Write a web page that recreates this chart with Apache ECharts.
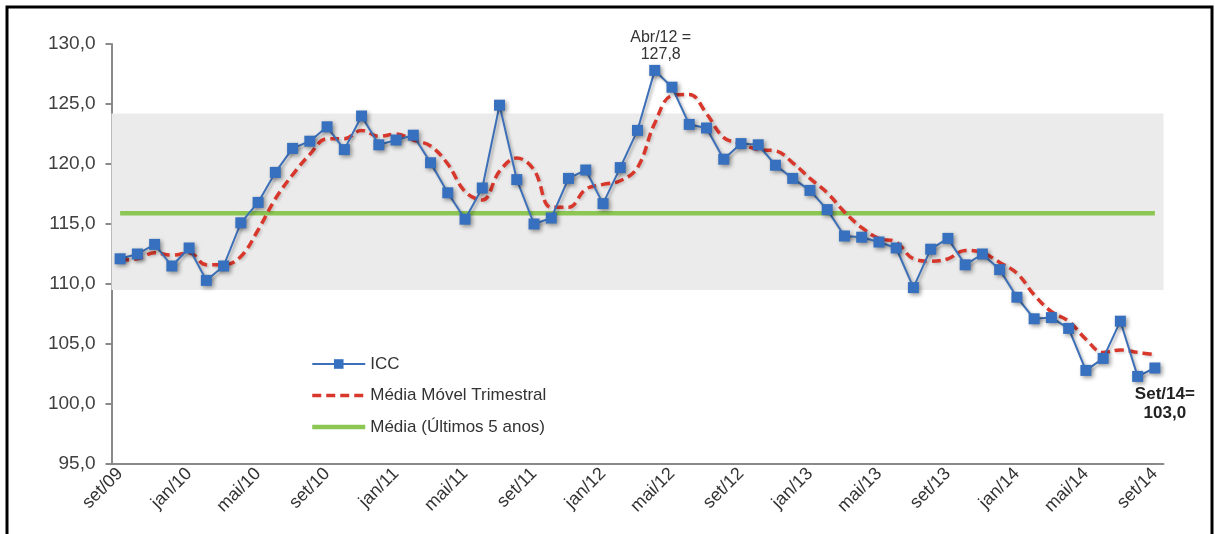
<!DOCTYPE html>
<html>
<head>
<meta charset="utf-8">
<script src="https://cdn.jsdelivr.net/npm/echarts@6/dist/echarts.min.js"></script>
<style>
  html, body { margin: 0; padding: 0; background: #fff; }
  #chart { width: 1215px; height: 534px; }
</style>
</head>
<body>
<div id="chart"></div>
<script>
// Meses (set/09 a set/14)
const meses = [
  'set/09','out/09','nov/09','dez/09',
  'jan/10','fev/10','mar/10','abr/10','mai/10','jun/10','jul/10','ago/10','set/10','out/10','nov/10','dez/10',
  'jan/11','fev/11','mar/11','abr/11','mai/11','jun/11','jul/11','ago/11','set/11','out/11','nov/11','dez/11',
  'jan/12','fev/12','mar/12','abr/12','mai/12','jun/12','jul/12','ago/12','set/12','out/12','nov/12','dez/12',
  'jan/13','fev/13','mar/13','abr/13','mai/13','jun/13','jul/13','ago/13','set/13','out/13','nov/13','dez/13',
  'jan/14','fev/14','mar/14','abr/14','mai/14','jun/14','jul/14','ago/14','set/14'
];

// Índice de Confiança do Consumidor
const icc = [
  112.1, 112.5, 113.3, 111.5,
  113.0, 110.3, 111.5, 115.1, 116.8, 119.3, 121.3, 121.9, 123.1, 121.2, 124.0, 121.6,
  122.0, 122.4, 120.1, 117.6, 115.4, 118.0, 124.9, 118.7, 115.0, 115.5, 118.8, 119.5,
  116.7, 119.7, 122.8, 127.8, 126.4, 123.3, 123.0, 120.4, 121.7, 121.6, 119.9, 118.8,
  117.8, 116.2, 114.0, 113.9, 113.5, 113.0, 109.7, 112.9, 113.8, 111.6, 112.5, 111.2,
  108.9, 107.1, 107.2, 106.3, 102.8, 103.8, 106.9, 102.3, 103.0
];

// Média móvel trimestral
const mediaMovel = [
  112.0, 112.1, 112.6, 112.4,
  112.6, 111.6, 111.6, 112.3, 114.5, 117.1, 119.1, 120.8, 122.1, 122.1, 122.8, 122.3,
  122.5, 122.0, 121.5, 120.0, 117.7, 117.0, 119.4, 120.5, 119.5, 116.4, 116.4, 117.9,
  118.3, 118.6, 119.7, 123.4, 125.7, 125.8, 124.2, 122.2, 121.7, 121.2, 121.1, 120.1,
  118.8, 117.6, 116.0, 114.7, 113.8, 113.5, 112.1, 111.9, 112.1, 112.8, 112.6, 111.8,
  110.9, 109.1, 107.7, 106.9, 105.4, 104.3, 104.5, 104.3, 104.1
];

// Média dos últimos 5 anos e faixa de referência
const media5Anos = 115.9;
const faixa = [109.5, 124.2];

// Eixo vertical
const yMin = 95, yMax = 130, yStep = 5;

// Pontos destacados: [índice, rótulo]
const destaquePico = [31, 'Abr/12 =\n127,8'];
const destaqueFim = [60, 'Set/14=\n103,0'];

const fmt = v => v.toFixed(1).replace('.', ',');
const FONT = '"Liberation Sans", Arial, sans-serif';

const COR_ICC = '#3d70b8';
const COR_MM = '#d8372c';
const COR_MEDIA = '#8cc653';

const iccData = icc.map((v, i) => {
  if (i === destaquePico[0]) {
    return {
      value: v,
      label: {
        show: true, position: 'top', distance: 3, offset: [6, 1],
        formatter: destaquePico[1], color: '#333', fontSize: 16, lineHeight: 17,
        fontFamily: FONT, align: 'center'
      }
    };
  }
  if (i === destaqueFim[0]) {
    return {
      value: v,
      label: {
        show: true, position: 'bottom', distance: 11, offset: [10, 0],
        formatter: destaqueFim[1], color: '#222', fontSize: 17, lineHeight: 19,
        fontWeight: 'bold', fontFamily: FONT, align: 'center'
      }
    };
  }
  return v;
});

const chart = echarts.init(document.getElementById('chart'), null, { renderer: 'canvas' });

chart.setOption({
  animation: false,
  backgroundColor: '#fff',
  textStyle: { fontFamily: FONT },
  graphic: [{
    type: 'rect',
    shape: { x: 7, y: 7, width: 1205, height: 560 },
    style: { fill: 'none', stroke: '#000', lineWidth: 3 },
    z: 100
  }],
  grid: { left: 111.5, right: 51.5, top: 44, bottom: 70 },
  legend: {
    orient: 'vertical',
    left: 310, top: 355.5,
    padding: 0,
    itemWidth: 53, itemHeight: 12, itemGap: 14.5, itemTextGap: 7,
    textStyle: { fontSize: 17, color: '#333', fontFamily: FONT },
    data: [
      { name: 'ICC', lineStyle: { width: 2 } },
      { name: 'Média Móvel Trimestral', itemStyle: { opacity: 0 }, lineStyle: { width: 3.5 } },
      { name: 'Média (Últimos 5 anos)', itemStyle: { opacity: 0 }, lineStyle: { width: 4.5 } }
    ]
  },
  xAxis: {
    type: 'category',
    data: meses,
    boundaryGap: true,
    axisLine: { lineStyle: { color: '#8a8a8a', width: 2 } },
    axisTick: { interval: 3, length: 4, lineStyle: { color: '#8a8a8a', width: 2 } },
    axisLabel: {
      interval: 3, rotate: 45, margin: 7,
      fontSize: 18, color: '#333', fontFamily: FONT
    },
    splitLine: { show: false }
  },
  yAxis: {
    type: 'value',
    min: yMin, max: yMax, interval: yStep,
    axisLine: { show: true, lineStyle: { color: '#8a8a8a', width: 2 } },
    axisTick: { show: true, length: 6, lineStyle: { color: '#8a8a8a', width: 2 } },
    axisLabel: {
      formatter: fmt, margin: 16,
      fontSize: 19, color: '#404040', fontFamily: FONT
    },
    splitLine: { show: false }
  },
  series: [
    {
      name: 'Média (Últimos 5 anos)',
      type: 'line',
      data: [[meses[0], media5Anos], [meses[meses.length - 1], media5Anos]],
      symbol: 'none',
      lineStyle: { color: COR_MEDIA, width: 4.5 },
      itemStyle: { color: COR_MEDIA },
      z: 2,
      markArea: {
        silent: true,
        itemStyle: { color: '#ebebeb' },
        data: [[{ yAxis: faixa[0] }, { yAxis: faixa[1] }]]
      }
    },
    {
      name: 'Média Móvel Trimestral',
      type: 'line',
      data: mediaMovel,
      smooth: 0.4,
      symbol: 'none',
      lineStyle: {
        color: COR_MM, width: 3.5, type: [9, 5],
        shadowColor: 'rgba(0,0,0,0.18)', shadowBlur: 3, shadowOffsetX: 1.5, shadowOffsetY: 1.5
      },
      itemStyle: { color: COR_MM },
      z: 3
    },
    {
      name: 'ICC',
      type: 'line',
      data: iccData,
      symbol: 'rect',
      symbolSize: 11,
      lineStyle: {
        color: COR_ICC, width: 2,
        shadowColor: 'rgba(0,0,0,0.3)', shadowBlur: 3, shadowOffsetX: 2, shadowOffsetY: 2
      },
      itemStyle: {
        color: '#3770bf',
        shadowColor: 'rgba(0,0,0,0.4)', shadowBlur: 4, shadowOffsetX: 2, shadowOffsetY: 2
      },
      z: 4
    }
  ]
});
</script>
</body>
</html>
